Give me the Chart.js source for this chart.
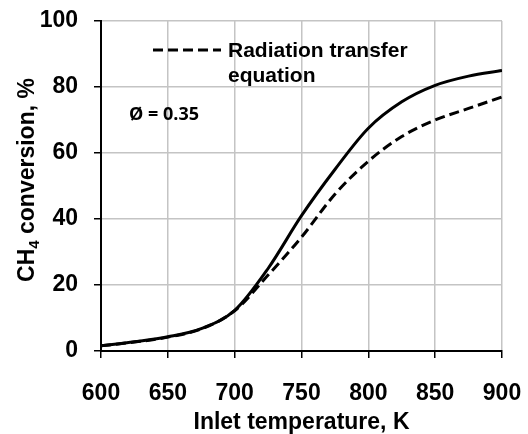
<!DOCTYPE html>
<html>
<head>
<meta charset="utf-8">
<script src="https://cdn.jsdelivr.net/npm/chart.js@4.4.1/dist/chart.umd.min.js"></script>
<style>
  html, body { margin: 0; padding: 0; background: #fff; }
  #wrap { width: 528px; height: 434px; }
</style>
</head>
<body>
<div id="wrap"><canvas id="chart" width="528" height="434"></canvas></div>
<script>
const temperatures = [600, 625, 650, 675, 700, 725, 750, 775, 800, 825, 850, 875, 900];
const conversionBase = [1.6, 2.8, 4.3, 6.8, 12.3, 25, 41, 55, 67.5, 75.5, 80.5, 83.3, 85];
const conversionRTE = [1.6, 2.7, 4.2, 6.7, 12.2, 23, 34.5, 47.5, 57.5, 65, 70, 73.5, 77];
const xTicks = [600, 650, 700, 750, 800, 850, 900];
const yTicks = [0, 20, 40, 60, 80, 100];
const rteLabel = ['Radiation transfer', 'equation'];
const phiLabel = 'Ø = 0.35';

const ARIAL = '"Liberation Sans", Arial, sans-serif';

function points(values) {
  return temperatures.map((t, i) => ({ x: t, y: values[i] }));
}

// fixed axis box, no extra label overflow padding
function pinScale(size) {
  return s => {
    if (s.isHorizontal()) s.height = size; else s.width = size;
    s.paddingLeft = s.paddingRight = s.paddingTop = s.paddingBottom = 0;
  };
}

// legend entry for the dashed run, the phi note and the CH4 axis title
const extras = {
  id: 'extras',
  afterDraw(chart) {
    const ctx = chart.ctx;
    const area = chart.chartArea;
    const ds = chart.data.datasets[1];
    ctx.save();

    ctx.strokeStyle = '#000';
    ctx.lineWidth = 3;
    ctx.setLineDash(ds.borderDash);
    ctx.beginPath();
    ctx.moveTo(153, 50);
    ctx.lineTo(221, 50);
    ctx.stroke();
    ctx.setLineDash([]);

    ctx.fillStyle = '#000';
    ctx.textBaseline = 'middle';
    ctx.textAlign = 'left';
    ctx.font = 'bold 21px ' + ARIAL;
    rteLabel.forEach((line, i) => ctx.fillText(line, 228, 51 + i * 25));

    ctx.font = 'bold 18px "Open Sans", sans-serif';
    ctx.fillText(phiLabel, 129, 115);

    // rotated y title with subscript
    const parts = [
      { t: 'CH', f: 'bold 23px ' + ARIAL, dy: 0 },
      { t: '4', f: 'bold 15px ' + ARIAL, dy: 5 },
      { t: ' conversion, %', f: 'bold 23px ' + ARIAL, dy: 0 }
    ];
    let total = 0;
    parts.forEach(p => { ctx.font = p.f; p.w = ctx.measureText(p.t).width; total += p.w; });
    ctx.translate(26, (area.top + area.bottom) / 2 - 6);
    ctx.rotate(-Math.PI / 2);
    ctx.textBaseline = 'alphabetic';
    let x = -total / 2;
    parts.forEach(p => {
      ctx.font = p.f;
      ctx.fillText(p.t, x, 8 + p.dy);
      x += p.w;
    });
    ctx.restore();
  }
};

new Chart(document.getElementById('chart'), {
  type: 'line',
  data: {
    datasets: [
      {
        label: 'Base model',
        data: points(conversionBase),
        borderColor: '#000',
        borderWidth: 3,
        pointRadius: 0,
        cubicInterpolationMode: 'monotone'
      },
      {
        label: rteLabel,
        data: points(conversionRTE),
        borderColor: '#000',
        borderWidth: 3,
        borderDash: [10, 5],
        pointRadius: 0,
        cubicInterpolationMode: 'monotone'
      }
    ]
  },
  options: {
    responsive: false,
    animation: false,
    layout: { padding: { top: 21, right: 26, left: 0, bottom: 0 } },
    plugins: { legend: { display: false }, tooltip: { enabled: false } },
    scales: {
      x: {
        type: 'linear',
        min: 600,
        max: 900,
        afterBuildTicks: s => { s.ticks = xTicks.map(v => ({ value: v })); },
        afterFit: pinScale(83),
        grid: { color: '#c4c4c4', lineWidth: 1.5, tickColor: '#000', tickLength: 7, tickWidth: 1.5 },
        border: { color: '#000', width: 2 },
        ticks: { color: '#000', font: { family: ARIAL, size: 23, weight: 'bold' }, padding: 22, maxRotation: 0 },
        title: {
          display: true,
          text: 'Inlet temperature, K',
          color: '#000',
          font: { family: ARIAL, size: 23, weight: 'bold', lineHeight: 1 },
          padding: { top: 0, bottom: 0 }
        }
      },
      y: {
        min: 0,
        max: 100,
        afterBuildTicks: s => { s.ticks = yTicks.map(v => ({ value: v })); },
        afterFit: pinScale(101),
        grid: { color: '#c4c4c4', lineWidth: 1.5, tickColor: '#000', tickLength: 7, tickWidth: 1.5 },
        border: { color: '#000', width: 2 },
        ticks: { color: '#000', font: { family: ARIAL, size: 23, weight: 'bold' }, padding: 16 }
      }
    }
  },
  plugins: [extras]
});
</script>
</body>
</html>
